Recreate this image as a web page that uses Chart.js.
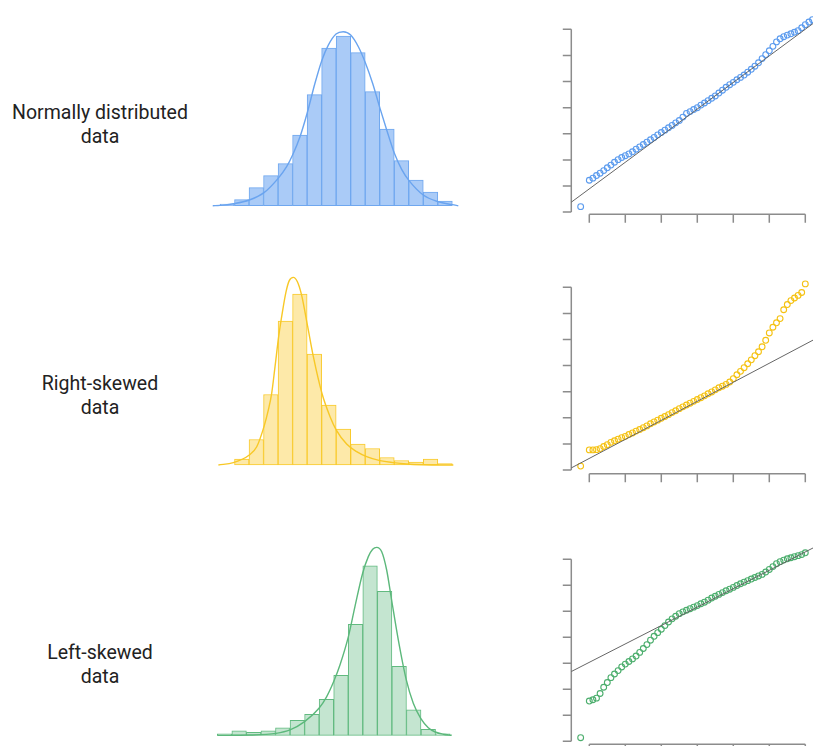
<!DOCTYPE html>
<html>
<head>
<meta charset="utf-8">
<script src="https://cdn.jsdelivr.net/npm/chart.js@4.4.1/dist/chart.umd.min.js"></script>
<style>
  html, body { margin: 0; padding: 0; background: #fff; }
  body { width: 813px; height: 746px; overflow: hidden; position: relative; }
  canvas { position: absolute; }
  .label {
    position: absolute; left: 0; width: 200px; text-align: center;
    font-family: Roboto, "Noto Sans", sans-serif; font-size: 19.5px; line-height: 24.5px; color: #222;
  }
</style>
</head>
<body>
<script>
// ---- Histogram data: 16 equal-width bins per distribution ----
const normalCounts = [1, 4, 12, 20, 28, 47, 74, 105, 113, 102, 76, 51, 30, 17, 9, 3];
const rightCounts  = [0, 4, 17, 47, 96, 114, 74, 40, 24, 14, 11, 5, 3, 2, 4, 1];
const leftCounts   = [1, 3, 2, 3, 5, 10, 14, 24, 40, 74, 113, 96, 46, 17, 4, 1];

// Density curves, as [bin position, count] pairs
const normalCurve = [[-0.5, 0], [0, 0.2], [0.92, 1.3], [2.02, 3.8], [3.03, 8.7], [4.02, 18.4], [4.59, 26], [5.0, 33.8],
  [5.51, 46], [6.01, 62], [6.54, 81.6], [7.02, 97], [7.46, 107], [7.99, 114.4], [8.49, 116], [9.0, 113.8], [9.53, 106],
  [10.01, 95.3], [10.51, 81.6], [11.02, 64.9], [11.52, 49.3], [12.01, 34.9], [12.51, 24.2], [13.02, 16.7], [14.0, 7.1],
  [15.01, 2.7], [16.0, 0.7], [16.41, 0]];
const rightCurve = [[-0.11, 0], [0.92, 1.6], [2.02, 6.7], [2.53, 12.2], [3.03, 25.6], [3.33, 36.7], [3.56, 47.8], [3.79, 65.6],
  [4.04, 85.6], [4.32, 103.3], [4.55, 115.6], [4.77, 122.9], [5.05, 125.1], [5.33, 122.2], [5.62, 113.3], [6.04, 92.2],
  [6.43, 72.2], [7.02, 47.8], [7.58, 32.2], [8.01, 23.3], [8.72, 14], [9.41, 8.9], [10.1, 5.6], [11.02, 2.9], [11.94, 1.6],
  [12.86, 0.7], [14.0, 0.2], [16.07, 0]];
const leftCurve = [[0, 0], [2.24, 0.2], [4.03, 1.3], [5.0, 3.6], [6.0, 9.1], [6.99, 18], [7.52, 25.8], [8.0, 35.8], [8.43, 46.9],
  [9.01, 65.8], [9.46, 85.8], [9.99, 108], [10.38, 119.1], [10.68, 124], [10.95, 125.3], [11.3, 122.4], [11.64, 110.2],
  [11.98, 90.2], [12.44, 63.6], [12.99, 36.9], [13.47, 21.3], [13.98, 11.3], [14.5, 5.1], [14.98, 2.2], [15.53, 0.7], [16.11, 0]];

// ---- Normal Q-Q data: theoretical quantiles and sample quantiles ----
const qqX = [-3.24, -3.0, -2.9, -2.8, -2.7, -2.6, -2.5, -2.4, -2.3, -2.2, -2.1, -2.0, -1.9, -1.8, -1.7, -1.6, -1.5, -1.4, -1.3,
  -1.2, -1.1, -1.0, -0.9, -0.8, -0.7, -0.6, -0.5, -0.4, -0.3, -0.2, -0.1, 0.0, 0.1, 0.2, 0.3, 0.4, 0.5, 0.6, 0.7, 0.8, 0.9,
  1.0, 1.1, 1.2, 1.3, 1.4, 1.5, 1.6, 1.7, 1.8, 1.9, 2.0, 2.1, 2.2, 2.3, 2.4, 2.5, 2.6, 2.7, 2.8, 2.9, 3.0, 3.1, 3.2];
const qqNormalY = [-3.79,
  -2.78, -2.70, -2.60, -2.51, -2.41, -2.30, -2.20, -2.09, -1.99, -1.91,
  -1.84, -1.77, -1.69, -1.59, -1.50, -1.41, -1.32, -1.23, -1.14, -1.04,
  -0.95, -0.86, -0.77, -0.68, -0.58, -0.49, -0.36, -0.22, -0.15, -0.07,
  0.00, 0.10, 0.18, 0.27, 0.36, 0.45, 0.56, 0.67, 0.78, 0.88,
  0.97, 1.07, 1.16, 1.25, 1.36, 1.47, 1.59, 1.72, 1.88, 2.03,
  2.18, 2.35, 2.52, 2.64, 2.72, 2.78, 2.83, 2.89, 2.95, 3.06,
  3.18, 3.28, 3.37];
const qqRightY = [0.15,
  0.77, 0.77, 0.78, 0.82, 0.90, 0.97, 1.06, 1.12, 1.18, 1.24,
  1.29, 1.36, 1.42, 1.49, 1.55, 1.62, 1.69, 1.77, 1.84, 1.91,
  1.98, 2.05, 2.12, 2.20, 2.27, 2.35, 2.42, 2.49, 2.56, 2.63,
  2.70, 2.77, 2.84, 2.92, 2.99, 3.07, 3.15, 3.21, 3.28, 3.37,
  3.50, 3.65, 3.78, 3.92, 4.07, 4.22, 4.38, 4.53, 4.72, 4.97,
  5.25, 5.47, 5.64, 5.80, 6.14, 6.34, 6.49, 6.59, 6.69, 6.80,
  7.13];
const qqLeftY = [0.14,
  1.55, 1.60, 1.66, 1.84, 2.08, 2.26, 2.45, 2.59, 2.72, 2.86,
  2.97, 3.07, 3.17, 3.28, 3.42, 3.57, 3.72, 3.89, 4.04, 4.18,
  4.31, 4.45, 4.59, 4.71, 4.81, 4.91, 4.98, 5.04, 5.10, 5.16,
  5.22, 5.29, 5.35, 5.43, 5.51, 5.58, 5.65, 5.72, 5.79, 5.85,
  5.92, 5.99, 6.06, 6.12, 6.18, 6.24, 6.30, 6.36, 6.42, 6.51,
  6.61, 6.72, 6.83, 6.91, 6.97, 7.02, 7.06, 7.10, 7.14, 7.18,
  7.25];

// Reference (quartile) lines, as two end points each
const qqNormalLine = [[-3.52, -3.64], [3.22, 3.23]];
const qqRightLine  = [[-3.52, 0.065], [3.22, 4.98]];
const qqLeftLine   = [[-3.52, 2.67], [3.22, 7.44]];

// Axis tick positions
const qqXTicks = [-3, -2, -1, 0, 1, 2, 3];
const qqNormalYTicks = [-4, -3, -2, -1, 0, 1, 2, 3];
const qqSkewYTicks = [0, 1, 2, 3, 4, 5, 6, 7];

const rowLabels = [['Normally distributed', 'data'], ['Right-skewed', 'data'], ['Left-skewed', 'data']];

// ---- Rendering ----
Chart.defaults.font.family = 'Roboto, "Noto Sans", sans-serif';

const palette = {
  blue:   { fill: '#aacbf7', edge: '#6fa7ef', line: '#6aa4ef', point: '#5b9bee' },
  yellow: { fill: '#fde9a9', edge: '#f9ca2c', line: '#f8c826', point: '#f5c213' },
  green:  { fill: '#c4e5d0', edge: '#62ba80', line: '#5cb87b', point: '#4cae6d' }
};

// Places a canvas so that its chart area lands on the given page rectangle
function makeCanvas(area, pad) {
  const left = Math.floor(area.left - pad), top = Math.floor(area.top - pad);
  const right = Math.ceil(area.right + pad), bottom = Math.ceil(area.bottom + pad);
  const c = document.createElement('canvas');
  c.width = right - left; c.height = bottom - top;
  c.style.left = left + 'px'; c.style.top = top + 'px';
  c.style.width = c.width + 'px'; c.style.height = c.height + 'px';
  document.body.appendChild(c);
  return { canvas: c, padding: { left: area.left - left, top: area.top - top, right: right - area.right, bottom: bottom - area.bottom } };
}

// Base-graphics style axes: the axis line only spans the tick range
const baseAxes = {
  id: 'baseAxes',
  beforeDatasetsDraw(chart, args, opts) {
    const { ctx, chartArea: a, scales: { x, y } } = chart;
    ctx.save();
    ctx.strokeStyle = opts.color;
    ctx.lineWidth = opts.width;
    ctx.beginPath();
    const yt = opts.yTicks, xt = opts.xTicks;
    ctx.moveTo(a.left, y.getPixelForValue(yt[0]));
    ctx.lineTo(a.left, y.getPixelForValue(yt[yt.length - 1]));
    yt.forEach(v => { const p = y.getPixelForValue(v); ctx.moveTo(a.left, p); ctx.lineTo(a.left - opts.tick, p); });
    ctx.moveTo(x.getPixelForValue(xt[0]), a.bottom);
    ctx.lineTo(x.getPixelForValue(xt[xt.length - 1]), a.bottom);
    xt.forEach(v => { const p = x.getPixelForValue(v); ctx.moveTo(p, a.bottom); ctx.lineTo(p, a.bottom + opts.tick); });
    ctx.stroke();
    ctx.restore();
  }
};

const common = {
  responsive: false, animation: false, devicePixelRatio: 1, events: [],
  plugins: { legend: { display: false }, tooltip: { enabled: false } }
};

function histogram(area, counts, curve, col) {
  const { canvas, padding } = makeCanvas(area, 6);
  new Chart(canvas, {
    type: 'bar',
    data: {
      datasets: [
        { type: 'line', data: curve.map(([x, y]) => ({ x, y })), borderColor: col.line, borderWidth: 1.4,
          pointRadius: 0, cubicInterpolationMode: 'monotone', fill: false, clip: false, order: 0 },
        { type: 'bar', data: counts.map((y, i) => ({ x: i + 0.5, y })), backgroundColor: col.fill, borderColor: col.edge,
          borderWidth: 1, borderSkipped: false, barPercentage: 1, categoryPercentage: 1, clip: false, order: 1 }
      ]
    },
    options: Object.assign({}, common, {
      layout: { padding },
      scales: {
        x: { type: 'linear', min: -1, max: 17, offset: false, display: false },
        y: { min: 0, max: 130, display: false }
      }
    })
  });
}

function qqPlot(area, ys, yRange, yTicks, refLine, col) {
  const { canvas, padding } = makeCanvas(area, 12);
  new Chart(canvas, {
    type: 'scatter',
    data: {
      datasets: [
        { type: 'line', data: refLine.map(([x, y]) => ({ x, y })), borderColor: '#666666', borderWidth: 1,
          pointRadius: 0, fill: false, clip: 0, order: 0 },
        { data: ys.map((y, i) => ({ x: qqX[i], y })), borderColor: col.point, backgroundColor: 'rgba(0,0,0,0)',
          pointRadius: 2.9, borderWidth: 1.1, clip: false, order: 1 }
      ]
    },
    options: Object.assign({}, common, {
      layout: { padding },
      scales: {
        x: { type: 'linear', min: -3.5, max: 3.5, display: false },
        y: { type: 'linear', min: yRange[0], max: yRange[1], display: false }
      },
      plugins: Object.assign({}, common.plugins, {
        baseAxes: { xTicks: qqXTicks, yTicks, color: '#8c8c8c', width: 1.5, tick: 8.5 }
      })
    }),
    plugins: [baseAxes]
  });
}

// Row labels
const labelTops = [100.5, 371.5, 640.5];
rowLabels.forEach((lines, i) => {
  const d = document.createElement('div');
  d.className = 'label';
  d.style.top = labelTops[i] + 'px';
  d.innerHTML = lines.join('<br>');
  document.body.appendChild(d);
});

histogram({ left: 205.48, top: 10.7, right: 466.84, bottom: 205.7 }, normalCounts, normalCurve, palette.blue);
histogram({ left: 205.48, top: 270, right: 466.84, bottom: 465 }, rightCounts, rightCurve, palette.yellow);
histogram({ left: 202.75, top: 540.3, right: 464.65, bottom: 735.3 }, leftCounts, leftCurve, palette.green);

qqPlot({ left: 571.3, top: 12.4, right: 823.3, bottom: 214.2 }, qqNormalY, [-4.08, 3.65], qqNormalYTicks, qqNormalLine, palette.blue);
qqPlot({ left: 571.3, top: 276.6, right: 823.3, bottom: 473.65 }, qqRightY, [-0.14, 7.41], qqSkewYTicks, qqRightLine, palette.yellow);
qqPlot({ left: 571.3, top: 545.0, right: 823.3, bottom: 744.2 }, qqLeftY, [-0.11, 7.55], qqSkewYTicks, qqLeftLine, palette.green);
</script>
</body>
</html>
